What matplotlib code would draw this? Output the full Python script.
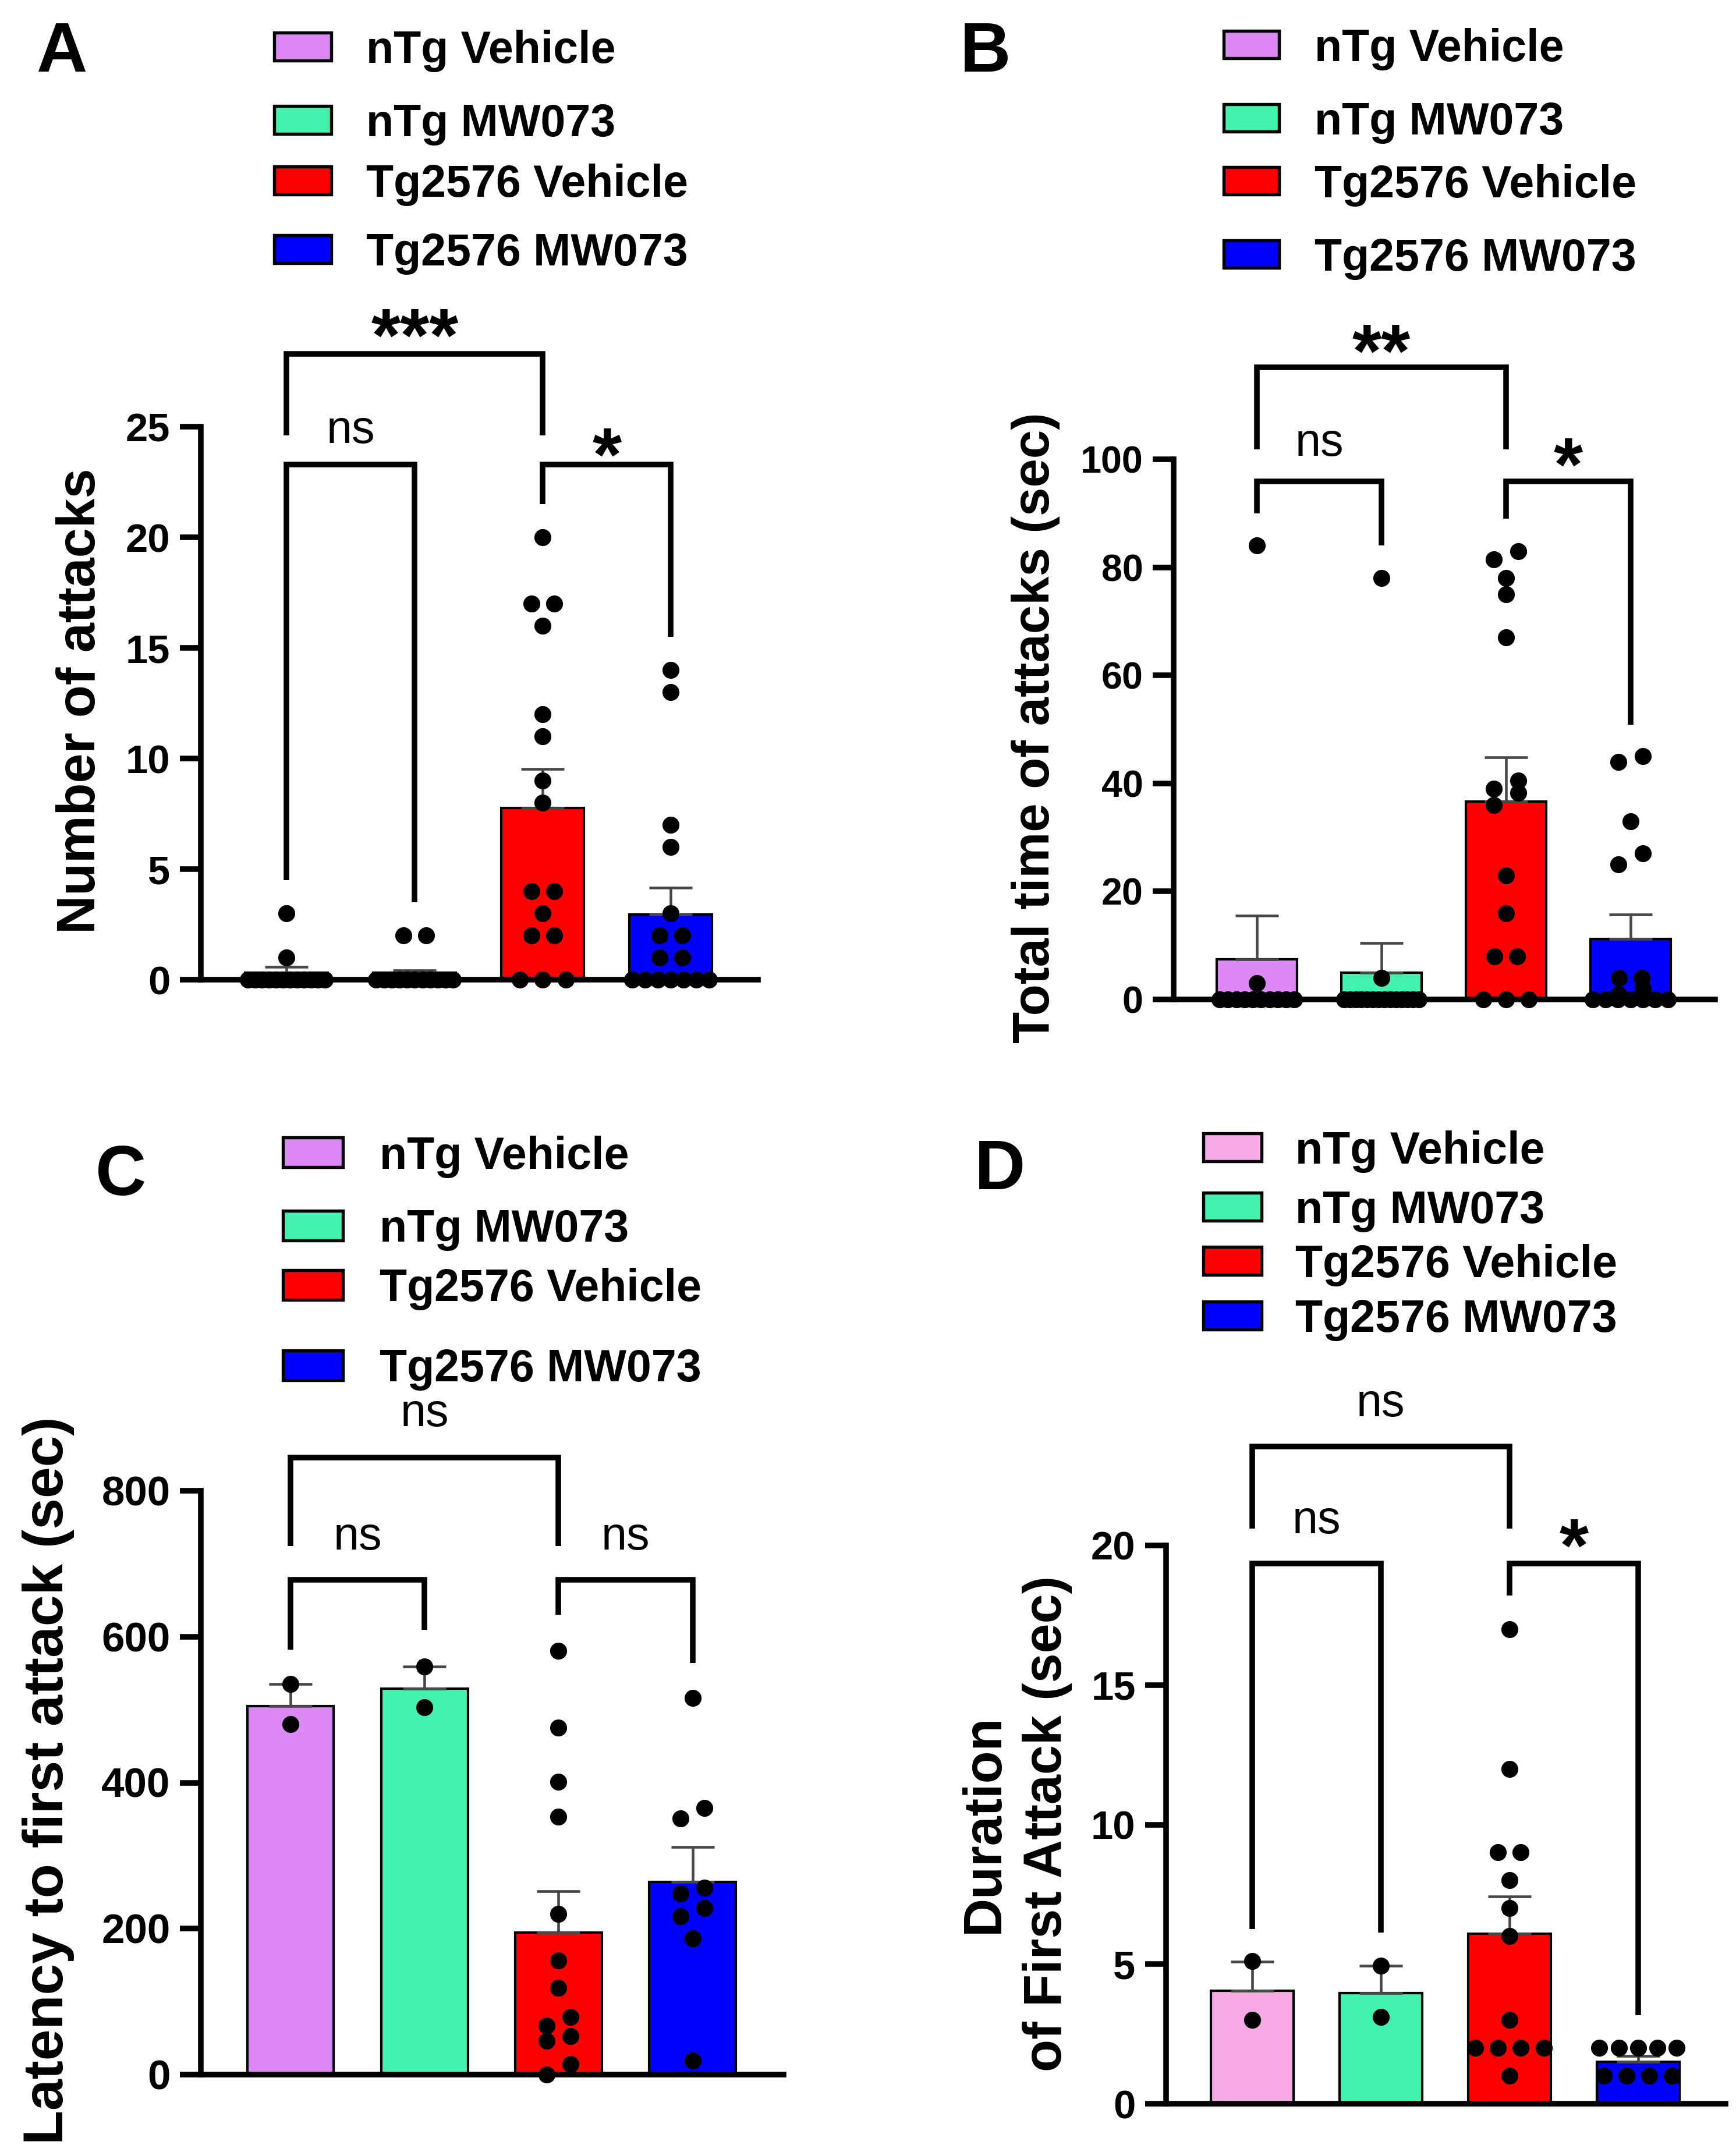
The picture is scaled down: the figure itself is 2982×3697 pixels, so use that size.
import numpy as np
import matplotlib
matplotlib.use("Agg")
import matplotlib.pyplot as plt
from matplotlib.patches import Rectangle
from matplotlib.transforms import offset_copy

plt.rcParams['font.family'] = ['Liberation Sans', 'DejaVu Sans']
plt.rcParams['font.weight'] = 'bold'

W, H, DPI = 2982, 3697, 300

# ---------------- data ----------------
groups = ["nTg Vehicle", "nTg MW073", "Tg2576 Vehicle", "Tg2576 MW073"]
colors_abc = ["#DD89F5", "#43F2AE", "#FF0000", "#0000FF"]
colors_d = ["#F5AAE6", "#43F2AE", "#FF0000", "#0000FF"]

# Panel A: Number of attacks
a_ntg_veh = [3, 1, 0, 0, 0, 0, 0, 0, 0, 0, 0, 0, 0, 0]
a_ntg_mw = [2, 2, 0, 0, 0, 0, 0, 0, 0, 0, 0, 0, 0]
a_tg_veh = [20, 17, 17, 16, 12, 11, 9, 8, 4, 4, 3, 2, 2, 0, 0, 0]
a_tg_mw = [14, 13, 7, 6, 3, 2, 2, 1, 1, 0, 0, 0, 0, 0, 0, 0]
a_means = [0.31, 0.31, 7.75, 2.95]
a_sems = [0.26, 0.10, 1.77, 1.2]

# Panel B: Total time of attacks (sec)
b_ntg_veh = [84, 3, 0, 0, 0, 0, 0, 0, 0, 0, 0, 0]
b_ntg_mw = [78, 4, 0, 0, 0, 0, 0, 0, 0, 0, 0, 0, 0, 0, 0, 0]
b_tg_veh = [83, 81.5, 78, 75, 67, 40.5, 39, 38.3, 36, 23, 16, 8, 8, 0, 0, 0]
b_tg_mw = [45, 44, 33, 27, 25, 4, 4, 2, 1, 0, 0, 0, 0, 0, 0, 0]
b_means = [7.4, 5.0, 36.6, 11.2]
b_sems = [8.1, 5.5, 8.2, 4.5]

# Panel C: Latency to first attack (sec)
c_ntg_veh = [535, 480]
c_ntg_mw = [559, 503]
c_tg_veh = [581, 475, 401, 353, 220, 156, 119, 79, 67, 53, 46, 14, 0]
c_tg_mw = [516, 365, 351, 256, 248, 228, 217, 187, 19]
c_means = [505, 529, 195, 264]
c_sems = [30, 30, 56, 48]

# Panel D: Duration of first attack (sec)
d_ntg_veh = [5.1, 3.0]
d_ntg_mw = [4.95, 3.1]
d_tg_veh = [17, 12, 9, 9, 8, 7, 6, 3, 2, 2, 2, 2, 1]
d_tg_mw = [2, 2, 2, 2, 2, 1, 1, 1, 1]
d_means = [4.05, 3.96, 6.09, 1.5]
d_sems = [1.03, 0.99, 1.34, 0.2]

# significance brackets: (i, j, top, left_leg_bottom, right_leg_bottom, label, label_y)
a_sig = [(0, 2, 28.3, 24.6, 24.6, "***", 29.9),
         (0, 1, 23.3, 4.5, 3.5, "ns", 24.8),
         (2, 3, 23.3, 21.5, 15.5, "*", 24.5)]
b_sig = [(0, 2, 117, 101.8, 101.8, "**", 123.2),
         (0, 1, 95.9, 90.0, 84.0, "ns", 102.9),
         (2, 3, 95.9, 89.0, 50.9, "*", 102.2)]
c_sig = [(0, 2, 845.7, 724, 724, "ns", 905),
         (0, 1, 678, 582, 609, "ns", 736),
         (2, 3, 678, 630, 564, "ns", 736)]
d_sig = [(0, 2, 23.55, 20.6, 20.6, "ns", 25.06),
         (0, 1, 19.35, 6.26, 6.13, "ns", 20.86),
         (2, 3, 19.35, 18.2, 3.17, "*", 20.6)]

# ---------------- layout (pixels) ----------------
fig = plt.figure(figsize=(W / DPI, H / DPI), dpi=DPI)

XLIM = (-0.67, 3.68)
BAR_W = 0.645
DOT_PX = 29


def swarm(values, dx, dy, maxhalf=0.3):
    vals = np.asarray(values, float)
    uniq = sorted(set(vals.tolist()), reverse=True)
    clusters = []
    for u in uniq:
        if clusters and (clusters[-1][-1] - u) < 0.9 * dy:
            clusters[-1].append(u)
        else:
            clusters.append([u])
    xs, ys = [], []
    for cl in clusters:
        counts = {u: int(np.sum(vals == u)) for u in cl}
        singles = [u for u in cl if counts[u] == 1]
        sign = 1
        for u in cl:
            k = counts[u]
            if k == 1:
                if len(singles) >= 2:
                    off = [sign * 0.72 * dx]
                    sign = -sign
                else:
                    off = [0.0]
            else:
                s = min(1.35 * dx, 2 * maxhalf / (k - 1))
                off = list((np.arange(k) - (k - 1) / 2) * s)
            xs += off
            ys += [u] * k
    return np.array(xs), np.array(ys)


def make_panel(rect_px, ymax, ystep, points, means, sems, colors, sig, tick_fs):
    left, right, top, bottom = rect_px
    ax = fig.add_axes([left / W, 1 - bottom / H, (right - left) / W, (bottom - top) / H])
    x = np.arange(4)
    ax.bar(x, means, width=BAR_W, color=colors, edgecolor='black', linewidth=1.0, zorder=1.5)
    ax.errorbar(x, means, yerr=[np.zeros(4), sems], fmt='none', ecolor='#474747',
                elinewidth=1.1, capsize=8.9, capthick=1.1, zorder=2)
    px_x = (right - left) / (XLIM[1] - XLIM[0])
    px_y = (bottom - top) / ymax
    dx, dy = DOT_PX / px_x, DOT_PX / px_y
    for i, pts in enumerate(points):
        xs, ys = swarm(pts, dx, dy)
        ax.scatter(xs + i, ys, s=49, c='black', linewidths=0, zorder=4, clip_on=False)
    ax.set_xlim(*XLIM)
    ax.set_ylim(0, ymax)
    ax.set_xticks([])
    ax.set_yticks(np.arange(0, ymax + ystep / 2, ystep))
    ax.tick_params(axis='y', length=8.6, width=2.3, pad=4, labelsize=tick_fs)
    for lab in ax.get_yticklabels():
        lab.set_fontweight('bold')
    for s in ['top', 'right']:
        ax.spines[s].set_visible(False)
    for s in ['left', 'bottom']:
        ax.spines[s].set_linewidth(2.3)
        ax.spines[s].set_zorder(3)
    for (i, j, ytop, yl, yr, lab, ly) in sig:
        ax.plot([i, i, j, j], [yl, ytop, ytop, yr], color='black', lw=2.3,
                clip_on=False, solid_capstyle='butt', solid_joinstyle='miter', zorder=3)
        if lab == 'ns':
            fs = 19
            tr = offset_copy(ax.transData, fig=fig, x=0, y=-0.26 * fs, units='points')
            ax.text((i + j) / 2, ly, lab, transform=tr, ha='center', va='baseline',
                    fontsize=fs, fontweight='normal', clip_on=False)
        else:
            fs = 31
            tr = offset_copy(ax.transData, fig=fig, x=0, y=-0.57 * fs, units='points')
            ax.text((i + j) / 2, ly, lab, transform=tr, ha='center', va='baseline',
                    fontsize=fs, fontweight='bold', clip_on=False)
    return ax


make_panel((345, 1302, 733, 1683), 25, 5, [a_ntg_veh, a_ntg_mw, a_tg_veh, a_tg_mw],
           a_means, a_sems, colors_abc, a_sig, 16.5)
make_panel((2016, 2946, 789, 1717), 100, 20, [b_ntg_veh, b_ntg_mw, b_tg_veh, b_tg_mw],
           b_means, b_sems, colors_abc, b_sig, 15.5)
make_panel((345, 1346, 2561, 3564), 800, 200, [c_ntg_veh, c_ntg_mw, c_tg_veh, c_tg_mw],
           c_means, c_sems, colors_abc, c_sig, 17)
make_panel((2003, 2964, 2655, 3614), 20, 5, [d_ntg_veh, d_ntg_mw, d_tg_veh, d_tg_mw],
           d_means, d_sems, colors_d, d_sig, 16.5)


def ftext(xp, yp, s, **kw):
    fig.text(xp / W, 1 - yp / H, s, **kw)


# y-axis labels
ftext(139, 1204, "Number of attacks", rotation=90, ha='center', va='center', fontsize=22, fontweight='bold')
ftext(1779, 1250, "Total time of attacks (sec)", rotation=90, ha='center', va='center', fontsize=21.3, fontweight='bold')
ftext(83, 3059, "Latency to first attack (sec)", rotation=90, ha='center', va='center', fontsize=23.2, fontweight='bold')
ftext(1691, 3133, "Duration", rotation=90, ha='center', va='center', fontsize=22, fontweight='bold')
ftext(1799, 3133, "of First Attack (sec)", rotation=90, ha='center', va='center', fontsize=22, fontweight='bold')

# panel letters
for (xp, yb, letter) in [(107, 123, "A"), (1693, 123, "B"), (208, 2053, "C"), (1718, 2043, "D")]:
    ftext(xp, yb, letter, ha='center', va='baseline', fontsize=29, fontweight='bold')

# legends
LEG_FS = 18.5
cap_px = 0.716 * LEG_FS / 72 * DPI
legend_layout = [
    (471, 569, 48, 629, [80, 206, 310, 428], colors_abc),
    (2102, 2197, 47, 2258, [77, 203, 311, 437], colors_abc),
    (486, 589, 51, 652, [1980, 2105, 2207, 2345], colors_abc),
    (2067, 2167, 48, 2225, [1971, 2073, 2166, 2260], colors_d),
]
for (x0, x1, hh, tx, ys, cols) in legend_layout:
    for k, cy in enumerate(ys):
        r = Rectangle((x0 / W, 1 - (cy + hh / 2) / H), (x1 - x0) / W, hh / H,
                      transform=fig.transFigure, facecolor=cols[k], edgecolor='black', linewidth=1.3)
        fig.add_artist(r)
        ftext(tx, cy + cap_px / 2, groups[k], ha='left', va='baseline', fontsize=LEG_FS, fontweight='bold')

fig.savefig("out.png", dpi=DPI)
